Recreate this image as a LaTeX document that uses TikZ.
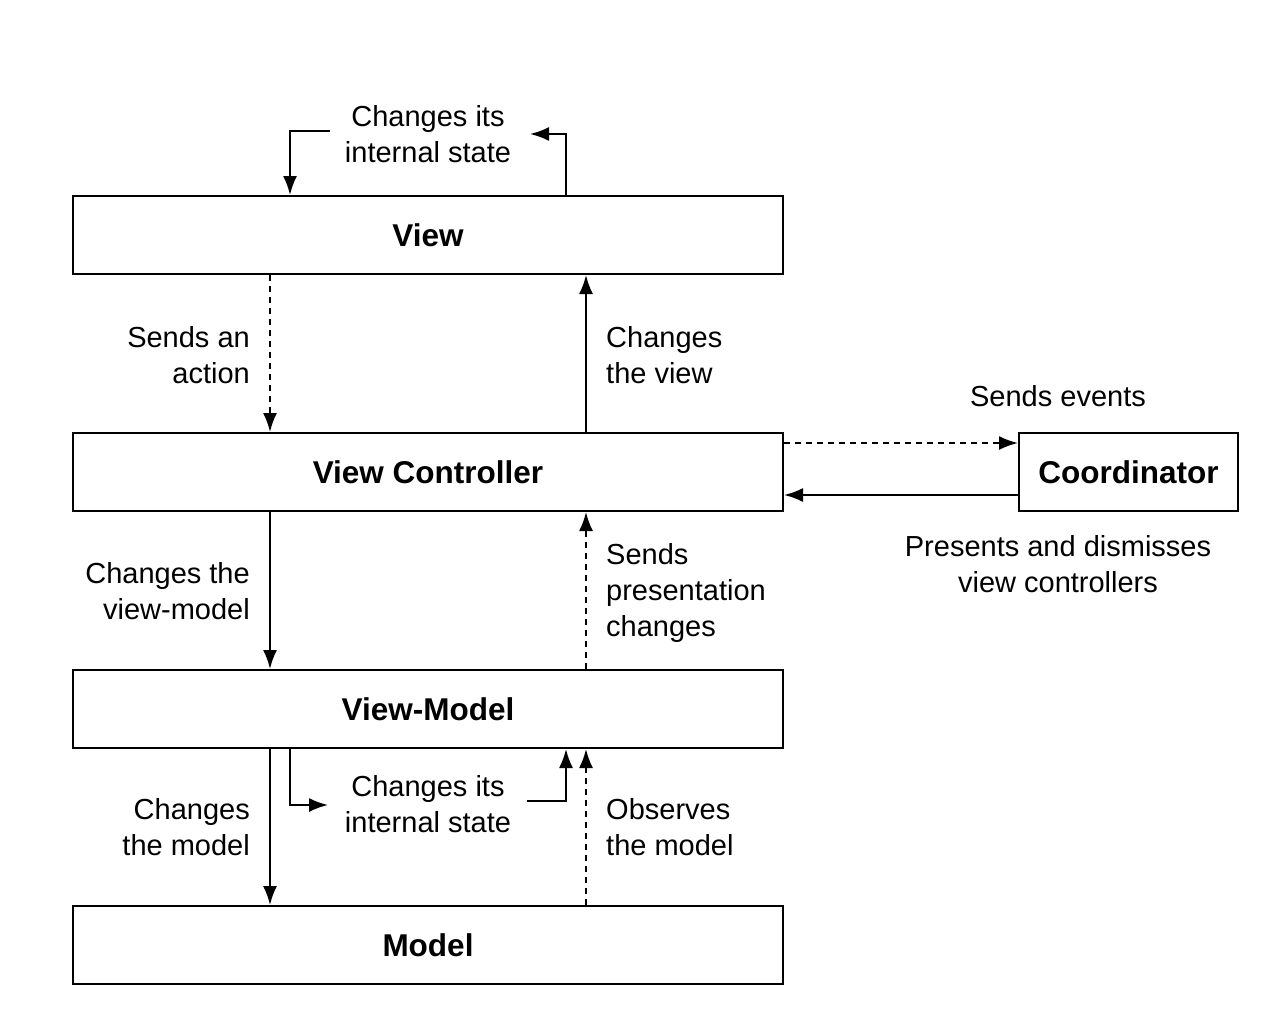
\documentclass[tikz,border=0pt]{standalone}
\usepackage{fontspec}
\setmainfont{Liberation Sans}
\usetikzlibrary{arrows.meta}
\begin{document}
\begin{tikzpicture}[x=1pt,y=-1pt,
  box/.style={draw,line width=2pt,minimum width=710pt,minimum height=78pt,inner sep=0pt,font=\fontsize{31.5}{36}\selectfont\bfseries},
  lbl/.style={inner sep=0pt,font=\fontsize{29}{36}\selectfont},
  conn/.style={line width=2pt,-{Latex[length=19pt,width=14pt]}},
  dsh/.style={conn,dash pattern=on 6pt off 5pt}]
\useasboundingbox (0,0) rectangle (1284,1028);
\node[box] (view) at (428,235) {View};
\node[box] (vc) at (428,472) {View Controller};
\node[box] (vm) at (428,709) {View-Model};
\node[box] (model) at (428,945) {Model};
\node[box,minimum width=219pt] (coord) at (1128.5,472) {Coordinator};

% View loop
\node[lbl,align=center] (vloop) at (428,134) {Changes its\\internal state};
\coordinate (v1) at (330,131);
\coordinate (v2) at (530,134);
\draw[conn] (v1) -| (view.north -| 290,0);
\draw[conn] (view.north -| 566,0) |- (v2);

% View <-> VC
\draw[dsh] (view.south -| 270,0) -- (vc.north -| 270,0);
\node[lbl,align=right,anchor=east] (sa) at (250,355) {Sends an\\action};
\draw[conn] (vc.north -| 586,0) -- (view.south -| 586,0);
\node[lbl,align=left,anchor=west] (cv) at (606,355) {Changes\\the view};

% VC <-> Coordinator
\draw[dsh] (vc.east |- 0,443) -- (coord.west |- 0,443);
\node[lbl] (se) at (1058,396) {Sends events};
\draw[conn] (coord.west |- 0,495) -- (vc.east |- 0,495);
\node[lbl,align=center] (pd) at (1058,564) {Presents and dismisses\\view controllers};

% VC <-> VM
\draw[conn] (vc.south -| 270,0) -- (vm.north -| 270,0);
\node[lbl,align=right,anchor=east] (cvm) at (250,591) {Changes the\\view-model};
\draw[dsh] (vm.north -| 586,0) -- (vc.south -| 586,0);
\node[lbl,align=left,anchor=west] (spc) at (606,593) {Sends\\presentation\\changes};

% VM loop
\node[lbl,align=center] (vmloop) at (428,804) {Changes its\\internal state};
\coordinate (m0) at (328,805);
\draw[conn] (vm.south -| 290,0) |- (m0);
\coordinate (m1) at (527,801);
\draw[conn] (m1) -| (vm.south -| 566,0);

% VM <-> Model
\draw[conn] (vm.south -| 270,0) -- (model.north -| 270,0);
\node[lbl,align=right,anchor=east] (cm) at (250,827) {Changes\\the model};
\draw[dsh] (model.north -| 586,0) -- (vm.south -| 586,0);
\node[lbl,align=left,anchor=west] (om) at (606,827) {Observes\\the model};
\end{tikzpicture}
\end{document}
